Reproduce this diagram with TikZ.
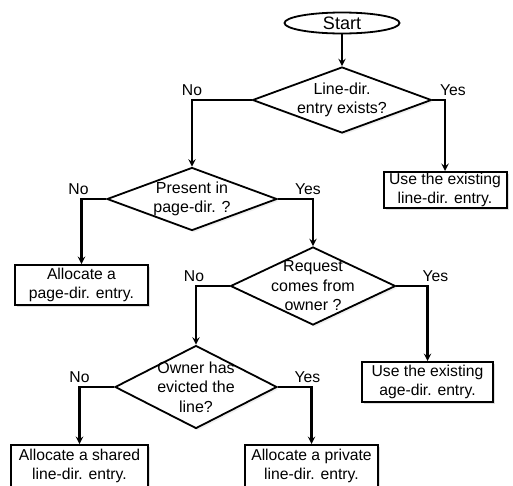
\documentclass[tikz,border=0pt]{standalone}
\usepackage{fontspec}
\setmainfont{Liberation Sans}
\usetikzlibrary{shapes.geometric, arrows, shadows}
\tikzstyle{startstop} = [ellipse, minimum width=115pt, minimum height=21pt, inner sep=0pt, draw=black, line width=1.8pt, fill=white, font=\fontsize{18}{20}\selectfont]
\tikzstyle{process} = [rectangle, inner sep=0pt, align=center, draw=black, line width=2pt, fill=white, drop shadow={opacity=0.25, shadow xshift=2pt, shadow yshift=-2pt}]
\tikzstyle{decision} = [diamond, inner sep=0pt, draw=black, line width=1.8pt, fill=white, drop shadow={opacity=0.12, shadow xshift=2pt, shadow yshift=-2pt}]
\tikzstyle{question} = [align=center, inner sep=1pt, font=\fontsize{16}{19.5}\selectfont]
\tikzstyle{arrow} = [line width=2.2pt,->,>=stealth]
\tikzstyle{answer} = [inner sep=3pt, anchor=south]

\begin{document}
\begin{tikzpicture}[x=1pt, y=-1pt, font=\fontsize{15.7}{18.5}\selectfont]
\clip (0,0) rectangle (513,485);
\fill[white] (0,0) rectangle (513,485);

\node (start) [startstop] at (342,23) {Start};
\node (lineq) [decision, minimum width=179pt, minimum height=66pt, label={[question]center:Line-dir.\\entry exists?}] at (342,100) {};
\node (useline) [process, minimum width=123pt, minimum height=36pt] at (445,190) {Use the existing\\line-dir. entry.};
\node (pageq) [decision, minimum width=170pt, minimum height=63pt, label={[question]center:Present in\\page-dir. ?}] at (192,199) {};
\node (allocpage) [process, minimum width=133pt, minimum height=40pt] at (81.5,285) {Allocate a\\page-dir. entry.};
\node (ownerq) [decision, minimum width=165pt, minimum height=78pt, label={[question]center:Request\\comes from\\owner ?}] at (313,286) {};
\node (usepage) [process, minimum width=131pt, minimum height=40pt] at (427.5,382) {Use the existing\\ age-dir. entry.};
\node (evictq) [decision, minimum width=162pt, minimum height=83pt, label={[question]center:Owner has\\evicted the\\line?}] at (196,387) {};
\node (shared) [process, minimum width=137pt, minimum height=42pt] at (79.5,466) {Allocate a shared\\line-dir. entry.};
\node (private) [process, minimum width=133pt, minimum height=42pt] at (311.5,466) {Allocate a private\\line-dir. entry.};

\draw [arrow] (start) -- (lineq);
\draw [arrow] (lineq.west) -| node[answer, pos=0.5] {No} (pageq.north);
\draw [arrow] (lineq.east) -| node[answer, pos=0.5, xshift=8pt] {Yes} (useline.north);
\draw [arrow] (pageq.west) -| node[answer, pos=0.5, xshift=-3pt] {No} (allocpage.north);
\draw [arrow] (pageq.east) -| node[answer, pos=0.5, xshift=-5pt] {Yes} (ownerq.north);
\draw [arrow] (ownerq.west) -| node[answer, pos=0.5, xshift=-2pt] {No} (evictq.north);
\draw [arrow] (ownerq.east) -| node[answer, pos=0.5, xshift=8pt] {Yes} (usepage.north);
\draw [arrow] (evictq.west) -| node[answer, pos=0.5] {No} (shared.north);
\draw [arrow] (evictq.east) -| node[answer, pos=0.5, xshift=-4pt] {Yes} (private.north);

\end{tikzpicture}
\end{document}
